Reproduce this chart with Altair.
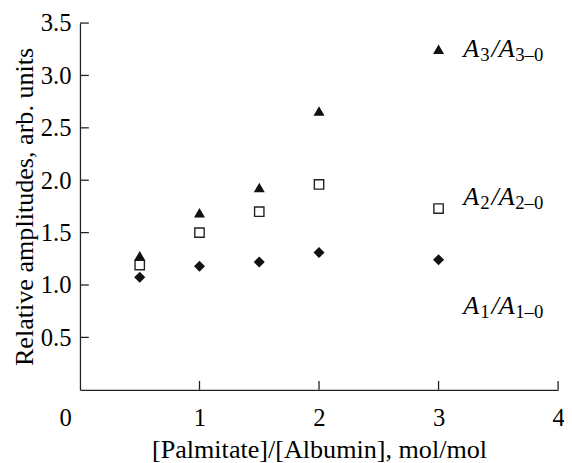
import altair as alt
import pandas as pd

# ---- data ----
ratio = [0.5, 1.0, 1.5, 2.0, 3.0]
a3 = [1.28, 1.69, 1.93, 2.66, 3.25]
a2 = [1.19, 1.50, 1.70, 1.96, 1.73]
a1 = [1.075, 1.18, 1.22, 1.31, 1.24]
x_ticks = [0, 1, 2, 3, 4]
x_inner_ticks = [1, 2, 3, 4]
y_ticks = [0.5, 1.0, 1.5, 2.0, 2.5, 3.0, 3.5]
label_x = [3.0, 3.0, 3.0]
label_y = [3.25, 1.84, 0.80]
label_sub = ["3", "2", "1"]
label_sub2 = ["3\u20130", "2\u20130", "1\u20130"]

FONT = "Liberation Serif"
FS = 25
TFS = 26.5
LFS = 26.5
SUB = 19
W, H = 485, 372
INK = "#111111"

pts3 = pd.DataFrame({"x": ratio, "y": a3})
pts2 = pd.DataFrame({"x": ratio, "y": a2})
pts1 = pd.DataFrame({"x": ratio, "y": a1})
labels = pd.DataFrame({"x": label_x, "y": label_y, "s1": label_sub, "s2": label_sub2,
                       "a": ["A"] * 3, "b": ["/A"] * 3})
xt = pd.DataFrame({"x": x_inner_ticks})
yt = pd.DataFrame({"y": y_ticks})

x_axis = alt.Axis(
    values=x_ticks, title="[Palmitate]/[Albumin], mol/mol", grid=False, ticks=False,
    domainColor="#222222", domainWidth=1.3, labelFont=FONT, labelFontSize=FS,
    labelColor="black", labelPadding=16, labelFlush=False, labelOverlap=False,
    labelOffset=alt.condition("datum.value == 0", alt.value(-15), alt.value(0)),
    titleFont=FONT, titleFontSize=TFS, titleFontWeight="normal", titleColor="black",
    titlePadding=7,
)
y_axis = alt.Axis(
    values=y_ticks, title="Relative amplitudes, arb. units", grid=False, ticks=False,
    domainColor="#222222", domainWidth=1.3, labelFont=FONT, labelFontSize=FS,
    labelColor="black", labelPadding=9, labelOverlap=False, format=".1f",
    titleFont=FONT, titleFontSize=TFS, titleFontWeight="normal", titleColor="black",
    titlePadding=2,
)
xs = alt.Scale(domain=[0, 4], nice=False, zero=False)
ys = alt.Scale(domain=[0, 3.5], nice=False, zero=False)
X = alt.X("x:Q", scale=xs, axis=x_axis)
Y = alt.Y("y:Q", scale=ys, axis=y_axis)

tri = alt.Chart(pts3).mark_point(shape="triangle-up", filled=True, size=125,
                                 color=INK, opacity=1).encode(x=X, y=Y)
sq = alt.Chart(pts2).mark_point(shape="square", filled=False, size=90, stroke="#222222",
                                strokeWidth=1.4, fill="white", opacity=1).encode(x=X, y=Y)
dia = alt.Chart(pts1).mark_point(shape="diamond", filled=True, size=125,
                                 color=INK, opacity=1).encode(x=X, y=Y)

xtick = alt.Chart(xt).mark_rule(color="#222222", strokeWidth=1.3).encode(
    x=X, y=alt.value(H), y2=alt.value(H - 9))
ytick = alt.Chart(yt).mark_rule(color="#222222", strokeWidth=1.3).encode(
    y=Y, x=alt.value(0), x2=alt.value(9))

def piece(field, dx, dy, size, italic):
    kw = dict(align="left", baseline="middle", font=FONT, fontSize=size,
              dx=dx, dy=dy, color="black")
    if italic:
        kw["fontStyle"] = "italic"
    return alt.Chart(labels).mark_text(**kw).encode(x=X, y=Y, text=f"{field}:N")

DX0 = 25
wA = 0.611 * LFS + 1
wS = 0.5 * SUB + 2
wSlA = 0.889 * LFS + 0.5
lab = (piece("a", DX0, 0, LFS, True)
       + piece("s1", DX0 + wA, 6, SUB, False)
       + piece("b", DX0 + wA + wS, 0, LFS, True)
       + piece("s2", DX0 + wA + wS + wSlA, 6, SUB, False))

chart = alt.layer(xtick, ytick, dia, sq, tri, lab).properties(
    width=W, height=H,
    autosize=alt.AutoSizeParams(type="none"),
    padding={"left": 73, "top": 12, "right": 6, "bottom": 71},
).configure(font=FONT).configure_view(stroke=None)

chart.save("out.html", embed_options={"renderer": "svg", "actions": False})
